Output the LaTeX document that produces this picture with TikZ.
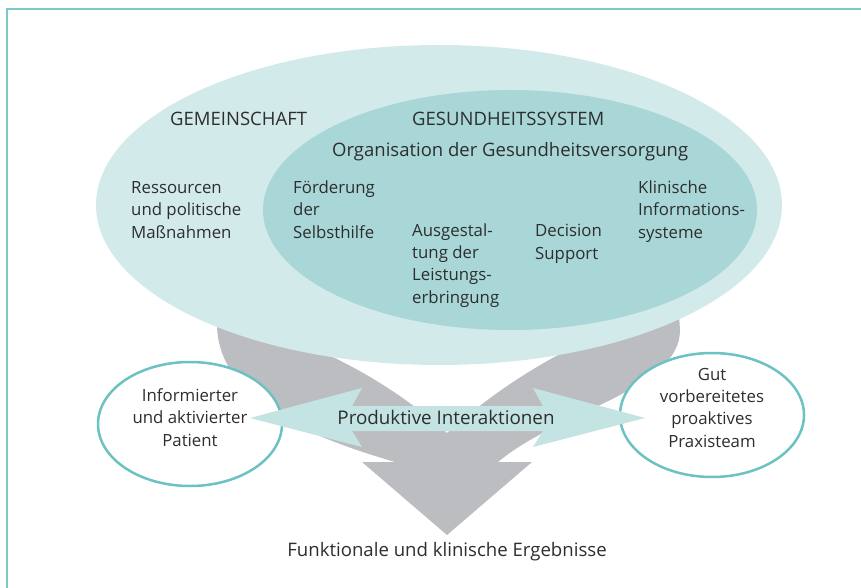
\documentclass[tikz,border=0pt]{standalone}
\usepackage{fontspec}
\setmainfont{Open Sans}
\usetikzlibrary{shapes.geometric}
\definecolor{outerc}{HTML}{D3EAEA}
\definecolor{innerc}{HTML}{A9D6D7}
\definecolor{grayc}{HTML}{BCBDC1}
\definecolor{tealarr}{HTML}{C4E4E4}
\definecolor{ringc}{HTML}{6CC2C2}
\definecolor{framec}{HTML}{7CC9C9}
\definecolor{txtc}{HTML}{2E2E2E}
\begin{document}
\begin{tikzpicture}[x=1pt,y=-1pt,
  body/.style={text=txtc, inner sep=0pt, font=\fontsize{16.8}{22.3}\selectfont},
  headtxt/.style={text=txtc, inner sep=0pt, font=\fontsize{18.5}{22}\selectfont},
  ring/.style={ellipse, draw=ringc, line width=2.5pt, fill=white, minimum width=184pt, minimum height=124pt, inner sep=0pt},
  blob/.style={ellipse, inner sep=0pt}]
\useasboundingbox (0,0) rectangle (861,588);
\fill[white] (0,0) rectangle (861,588);
\draw[framec, line width=2.5pt] (7,588) -- (7,9) -- (861,9);
% gray arrow
\fill[grayc] (218,300) -- (218,310) .. controls (205,400) and (320,440) .. (395,462) -- (362,462) -- (447,535) -- (532,462) -- (498,462) .. controls (560,410) and (680,390) .. (680,330) -- (678,300) -- (610,330) .. controls (540,360) and (490,395) .. (447,433) .. controls (404,395) and (350,360) .. (280,335) -- cycle;
\node[blob, fill=outerc, minimum width=686pt, minimum height=320pt] (gem) at (439,205) {};
\node[blob, fill=innerc, minimum width=494pt, minimum height=240pt] (ges) at (510,210) {};
\node[ring] (pat) at (190,424) {};
\node[ring] (team) at (712,415) {};
\fill[tealarr] (250,418) -- (362,388) -- (352,406) -- (543,406) -- (533,388) -- (645,418) -- (533,447) -- (543,431) -- (352,431) -- (362,447) -- cycle;
\node[headtxt, anchor=base west] (gemt) at (170,126) {GEMEINSCHAFT};
\node[headtxt, anchor=base west] (gest) at (412,126) {GESUNDHEITSSYSTEM};
\node[headtxt, anchor=base west] (org) at (332,157) {Organisation der Gesundheitsversorgung};
\node[body, anchor=base west, align=left] (res) at (131,238) {Ressourcen\\und politische\\Maßnahmen};
\node[body, anchor=base west, align=left] (foe) at (293,238) {Förderung\\der\\Selbsthilfe};
\node[body, anchor=base west, align=left] (aus) at (412,303) {Ausgestal-\\tung der\\Leistungs-\\erbringung};
\node[body, anchor=base west, align=left] (dec) at (535,259) {Decision\\Support};
\node[body, anchor=base west, align=left] (kis) at (638,238) {Klinische\\Informations-\\systeme};
\node[body, anchor=base, align=center] (patt) at (190,446) {Informierter\\und aktivierter\\Patient};
\node[body, anchor=base, align=center] (teamt) at (712,447) {Gut\\vorbereitetes\\proaktives\\Praxisteam};
\node[headtxt, font=\fontsize{18.8}{22}\selectfont, anchor=base] (prod) at (446,424) {Produktive Interaktionen};
\node[headtxt, font=\fontsize{18.6}{22}\selectfont, anchor=base] (erg) at (447,556) {Funktionale und klinische Ergebnisse};
\end{tikzpicture}
\end{document}
